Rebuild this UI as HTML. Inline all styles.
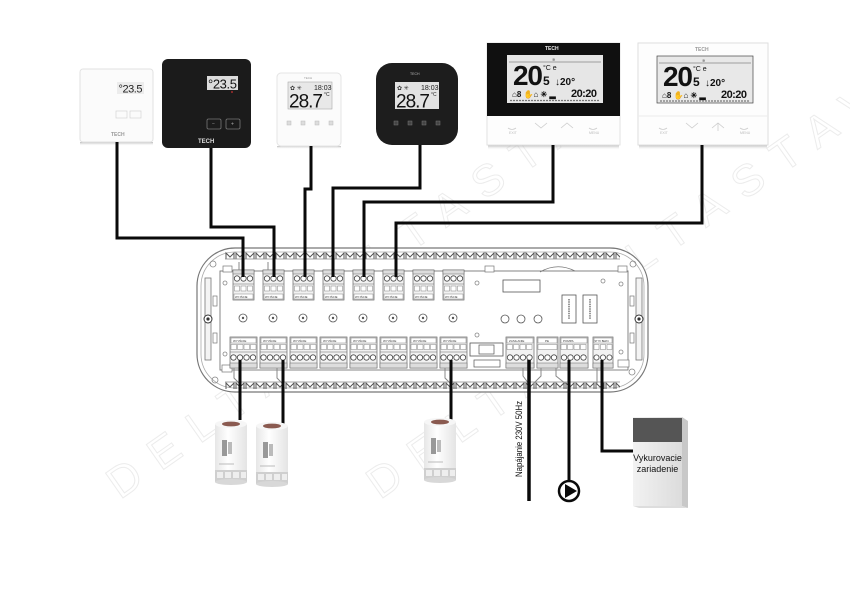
<!DOCTYPE html>
<html><head><meta charset="utf-8"><style>
html,body{margin:0;padding:0;background:#fff;}
svg{display:block;}
text{font-family:"Liberation Sans",sans-serif;}
</style></head><body>
<svg width="850" height="600" viewBox="0 0 850 600" xmlns="http://www.w3.org/2000/svg">
<defs>
 <pattern id="teeth" x="225" y="0" width="10" height="10" patternUnits="userSpaceOnUse">
   <path d="M1 9 L1 3 L5 7 L9 3 L9 9" fill="none" stroke="#555" stroke-width="1"/>
 </pattern>
 <linearGradient id="shd" x1="0" y1="0" x2="0" y2="1">
   <stop offset="0" stop-color="#888" stop-opacity="0.6"/>
   <stop offset="1" stop-color="#fff" stop-opacity="0"/>
 </linearGradient>
 <linearGradient id="boxg" x1="0" y1="0" x2="1" y2="0">
   <stop offset="0" stop-color="#f2f2f2"/>
   <stop offset="1" stop-color="#dcdcdc"/>
 </linearGradient>
 <linearGradient id="actg" x1="0" y1="0" x2="1" y2="0">
   <stop offset="0" stop-color="#e6e6e6"/>
   <stop offset="0.4" stop-color="#fff"/>
   <stop offset="1" stop-color="#e4e4e4"/>
 </linearGradient>
</defs>

<!-- watermark -->
<g fill="none" stroke="#ececec" stroke-width="1" font-size="44" letter-spacing="18">
 <text x="120" y="500" transform="rotate(-35 120 500)">DELTA</text>
 <text x="300" y="330" transform="rotate(-35 300 330)">DELTASTAV</text>
 <text x="380" y="500" transform="rotate(-35 380 500)">DELTA</text>
 <text x="560" y="330" transform="rotate(-35 560 330)">DELTASTAV</text>
</g>

<!-- ============ THERMOSTATS ============ -->
<!-- T1 -->
<rect x="80" y="142" width="73" height="4" fill="url(#shd)"/>
<rect x="80" y="69" width="73" height="73" rx="3" fill="#fbfbfb" stroke="#e2e2e2"/>
<rect x="117" y="82" width="27" height="12" fill="#ececec"/>
<text x="118.5" y="92.5" font-size="11" fill="#222" textLength="24">°23.5</text>
<rect x="116" y="111" width="11" height="7" fill="none" stroke="#d4d4d4" stroke-width="0.7"/>
<rect x="130" y="111" width="11" height="7" fill="none" stroke="#d4d4d4" stroke-width="0.7"/>
<text x="111" y="136" font-size="5" fill="#999" font-weight="bold">TECH</text>

<!-- T2 -->
<rect x="162" y="59" width="89" height="89" rx="6" fill="#1b1b1b"/>
<rect x="207" y="76" width="31" height="14" fill="#dcdcdc"/>
<text x="208" y="88.5" font-size="13" fill="#111" textLength="29">°23.5</text>
<circle cx="232" cy="92" r="0.9" fill="#c33"/>
<rect x="207" y="119" width="14" height="10" rx="1.5" fill="none" stroke="#777" stroke-width="0.8"/>
<rect x="226" y="119" width="14" height="10" rx="1.5" fill="none" stroke="#777" stroke-width="0.8"/>
<text x="212" y="125.5" font-size="5" fill="#aaa">−</text>
<text x="231" y="125.5" font-size="5" fill="#aaa">+</text>
<text x="198" y="143" font-size="6" fill="#ddd" font-weight="bold">TECH</text>

<!-- T3 -->
<rect x="277" y="146" width="64" height="3" fill="url(#shd)"/>
<rect x="277" y="73" width="64" height="73" rx="4" fill="#fbfbfb" stroke="#e4e4e4"/>
<text x="304" y="79" font-size="3" fill="#999">TECH</text>
<rect x="288" y="82" width="44" height="27" fill="#e8e8e8" stroke="#aaa" stroke-width="0.6"/>
<text x="290" y="90" font-size="6" fill="#333">✿ ✳</text>
<text x="314" y="90" font-size="7" fill="#222">18:03</text>
<text x="289" y="107.5" font-size="19" fill="#111" textLength="34">28.7</text>
<text x="324" y="96" font-size="5" fill="#222">°C</text>
<g fill="#ddd" stroke="#bbb" stroke-width="0.5">
 <rect x="287" y="121" width="4" height="4"/><rect x="301" y="121" width="4" height="4"/>
 <rect x="315" y="121" width="4" height="4"/><rect x="329" y="121" width="4" height="4"/>
</g>

<!-- T4 -->
<rect x="376" y="63" width="82" height="82" rx="16" fill="#1d1d1d"/>
<text x="410" y="75" font-size="3.5" fill="#bbb">TECH</text>
<rect x="395" y="82" width="44" height="27" fill="#e2e2e2"/>
<text x="397" y="90" font-size="6" fill="#333">✿ ✳</text>
<text x="421" y="90" font-size="7" fill="#222">18:03</text>
<text x="396" y="107.5" font-size="19" fill="#111" textLength="34">28.7</text>
<text x="431" y="96" font-size="5" fill="#222">°C</text>
<g fill="#444" stroke="#777" stroke-width="0.5">
 <rect x="394" y="121" width="4" height="4"/><rect x="408" y="121" width="4" height="4"/>
 <rect x="422" y="121" width="4" height="4"/><rect x="436" y="121" width="4" height="4"/>
</g>

<!-- T5 -->
<rect x="488" y="145" width="131" height="5" fill="url(#shd)"/>
<rect x="487" y="43" width="133" height="102" fill="#fdfdfd" stroke="#e2e2e2"/>
<rect x="487" y="43" width="133" height="73" fill="#101010"/>
<text x="545" y="50" font-size="5" fill="#eee" font-weight="bold">TECH</text>
<rect x="507" y="55" width="96" height="48" fill="#e6e6e6"/>
<line x1="509" y1="62" x2="601" y2="62" stroke="#555" stroke-width="0.6"/>
<text x="552" y="61" font-size="4" fill="#444">≋</text>
<text x="513" y="85" font-size="28" fill="#111" font-weight="bold" textLength="30">20</text>
<text x="543" y="70" font-size="7" fill="#111">°C e</text>
<text x="543" y="85" font-size="12" fill="#111" font-weight="bold">5</text>
<text x="555" y="85" font-size="10" fill="#111" font-weight="bold">↓20°</text>
<text x="512" y="97" font-size="8" fill="#111" font-weight="bold">⌂8 ✋⌂ ✳ ▂</text>
<text x="571" y="97" font-size="11" fill="#111" font-weight="bold" textLength="26">20:20</text>
<line x1="510" y1="100.5" x2="600" y2="100.5" stroke="#777" stroke-width="1.2" stroke-dasharray="2 1"/>
<g fill="none" stroke="#ccc" stroke-width="0.8">
 <path d="M508 128 q4 3 8 0"/><path d="M535 123 l6 5 l6 -5"/><path d="M561 128 l6 -5 l6 5"/><path d="M589 128 q4 3 8 0"/>
</g>
<text x="509" y="134" font-size="3.5" fill="#bbb">EXIT</text>
<text x="589" y="134" font-size="3.5" fill="#bbb">MENU</text>

<!-- T6 -->
<rect x="639" y="145" width="128" height="5" fill="url(#shd)"/>
<rect x="638" y="43" width="130" height="102" fill="#fdfdfd" stroke="#dedede"/>
<line x1="638" y1="116" x2="768" y2="116" stroke="#ececec"/>
<text x="695" y="51" font-size="5" fill="#999" font-weight="bold">TECH</text>
<g transform="translate(150,1)">
<rect x="507" y="55" width="96" height="47" fill="#e8e8e8" stroke="#444" stroke-width="0.7"/>
<line x1="509" y1="62" x2="601" y2="62" stroke="#555" stroke-width="0.6"/>
<text x="552" y="61" font-size="4" fill="#444">≋</text>
<text x="513" y="85" font-size="28" fill="#111" font-weight="bold" textLength="30">20</text>
<text x="543" y="70" font-size="7" fill="#111">°C e</text>
<text x="543" y="85" font-size="12" fill="#111" font-weight="bold">5</text>
<text x="555" y="85" font-size="10" fill="#111" font-weight="bold">↓20°</text>
<text x="512" y="97" font-size="8" fill="#111" font-weight="bold">⌂8 ✋⌂ ✳ ▂</text>
<text x="571" y="97" font-size="11" fill="#111" font-weight="bold" textLength="26">20:20</text>
<line x1="510" y1="100" x2="600" y2="100" stroke="#777" stroke-width="1.2" stroke-dasharray="2 1"/>
</g>
<g fill="none" stroke="#ccc" stroke-width="0.8">
 <path d="M659 128 q4 3 8 0"/><path d="M686 123 l6 5 l6 -5"/><path d="M712 128 l6 -5 l6 5"/><path d="M718 123 v8"/><path d="M740 128 q4 3 8 0"/>
</g>
<text x="660" y="134" font-size="3.5" fill="#bbb">EXIT</text>
<text x="740" y="134" font-size="3.5" fill="#bbb">MENU</text>

<!-- ============ BOARD ============ -->
<rect x="197" y="248" width="451" height="144" rx="38" fill="#fff" stroke="#777" stroke-width="1.2"/>
<rect x="201" y="252" width="443" height="136" rx="34" fill="none" stroke="#aaa" stroke-width="0.8"/>
<rect x="225" y="249" width="395" height="10" fill="url(#teeth)"/>
<rect x="225" y="382" width="395" height="10" fill="url(#teeth)"/>
<line x1="225" y1="259" x2="620" y2="259" stroke="#888" stroke-width="0.7"/>
<line x1="225" y1="382" x2="620" y2="382" stroke="#888" stroke-width="0.7"/>
<rect x="220" y="271" width="408" height="99" fill="#fff" stroke="#777" stroke-width="0.9"/>
<!-- clips -->
<rect x="223" y="266" width="9" height="6" fill="#fff" stroke="#777" stroke-width="0.7"/>
<rect x="485" y="266" width="9" height="6" fill="#fff" stroke="#777" stroke-width="0.7"/>
<rect x="618" y="266" width="9" height="6" fill="#fff" stroke="#777" stroke-width="0.7"/>
<rect x="222" y="365" width="10" height="7" fill="#fff" stroke="#777" stroke-width="0.7"/>
<rect x="618" y="360" width="11" height="7" fill="#fff" stroke="#777" stroke-width="0.7"/>
<path d="M540 272 Q557 262 575 271" fill="none" stroke="#777" stroke-width="0.8"/>
<!-- small holes -->
<g fill="none" stroke="#888" stroke-width="0.8">
 <circle cx="213" cy="264" r="3"/><circle cx="225" cy="283" r="2"/><circle cx="225" cy="354" r="2"/>
 <circle cx="215" cy="380" r="3"/><circle cx="477" cy="283" r="2"/><circle cx="477" cy="335" r="2"/>
 <circle cx="621" cy="284" r="2"/><circle cx="621" cy="352" r="2"/><circle cx="633" cy="264" r="3"/>
 <circle cx="632" cy="372" r="3"/><circle cx="603" cy="281" r="2"/>
</g>
<!-- rails -->
<rect x="205" y="278" width="6" height="82" fill="#f4f4f4" stroke="#777" stroke-width="0.8"/>
<rect x="213" y="296" width="4" height="10" fill="#fff" stroke="#777" stroke-width="0.7"/>
<rect x="213" y="333" width="4" height="10" fill="#fff" stroke="#777" stroke-width="0.7"/>
<circle cx="208" cy="319" r="4" fill="#fff" stroke="#333" stroke-width="1"/><circle cx="208" cy="319" r="1.6" fill="#333"/>
<rect x="636" y="278" width="6" height="82" fill="#f4f4f4" stroke="#777" stroke-width="0.8"/>
<rect x="630" y="296" width="4" height="10" fill="#fff" stroke="#777" stroke-width="0.7"/>
<rect x="630" y="333" width="4" height="10" fill="#fff" stroke="#777" stroke-width="0.7"/>
<circle cx="639" cy="319" r="4" fill="#fff" stroke="#333" stroke-width="1"/><circle cx="639" cy="319" r="1.6" fill="#333"/>

<!-- top terminal blocks -->
<g id="tb0">
 <rect x="233" y="270" width="21" height="30" fill="#f2f2f2" stroke="#666" stroke-width="0.7"/>
 <rect x="233" y="270" width="21" height="4" fill="#ddd" stroke="#666" stroke-width="0.5"/>
 <circle cx="237" cy="278.5" r="2.7" fill="#fff" stroke="#444" stroke-width="0.8"/>
 <circle cx="243.5" cy="278.5" r="2.7" fill="#fff" stroke="#444" stroke-width="0.8"/>
 <circle cx="250" cy="278.5" r="2.7" fill="#fff" stroke="#444" stroke-width="0.8"/>
 <line x1="233" y1="284" x2="254" y2="284" stroke="#666" stroke-width="0.5"/>
 <rect x="234.5" y="286" width="5" height="5" fill="#fff" stroke="#666" stroke-width="0.4"/>
 <rect x="241" y="286" width="5" height="5" fill="#fff" stroke="#666" stroke-width="0.4"/>
 <rect x="247.5" y="286" width="5" height="5" fill="#fff" stroke="#666" stroke-width="0.4"/>
 <rect x="234" y="294" width="19" height="5" fill="#fff" stroke="#666" stroke-width="0.4"/>
 <text x="235" y="298" font-size="2.8" fill="#333">WYJŚCIE</text>
</g>
<use href="#tb0" x="30"/><use href="#tb0" x="60"/><use href="#tb0" x="90"/><use href="#tb0" x="120"/>
<use href="#tb0" x="150"/><use href="#tb0" x="180"/><use href="#tb0" x="210"/>

<!-- mid screws -->
<g fill="#fff" stroke="#555" stroke-width="0.8">
 <circle cx="243" cy="318" r="4"/><circle cx="273" cy="318" r="4"/><circle cx="303" cy="318" r="4"/><circle cx="333" cy="318" r="4"/>
 <circle cx="363" cy="318" r="4"/><circle cx="393" cy="318" r="4"/><circle cx="423" cy="318" r="4"/><circle cx="453" cy="318" r="4"/>
</g>
<g fill="#555">
 <circle cx="243" cy="318" r="1.2"/><circle cx="273" cy="318" r="1.2"/><circle cx="303" cy="318" r="1.2"/><circle cx="333" cy="318" r="1.2"/>
 <circle cx="363" cy="318" r="1.2"/><circle cx="393" cy="318" r="1.2"/><circle cx="423" cy="318" r="1.2"/><circle cx="453" cy="318" r="1.2"/>
</g>

<!-- bottom terminal blocks -->
<g id="bb0">
 <rect x="230" y="337" width="27" height="31" fill="#f2f2f2" stroke="#666" stroke-width="0.7"/>
 <rect x="231" y="338" width="25" height="5" fill="#fff" stroke="#666" stroke-width="0.4"/>
 <text x="233" y="342" font-size="3" fill="#333">WYJŚCIE</text>
 <rect x="231" y="344.5" width="5.5" height="5" fill="#fff" stroke="#666" stroke-width="0.4"/>
 <rect x="237.5" y="344.5" width="5.5" height="5" fill="#fff" stroke="#666" stroke-width="0.4"/>
 <rect x="244" y="344.5" width="5.5" height="5" fill="#fff" stroke="#666" stroke-width="0.4"/>
 <rect x="250.5" y="344.5" width="5.5" height="5" fill="#fff" stroke="#666" stroke-width="0.4"/>
 <line x1="230" y1="352" x2="257" y2="352" stroke="#666" stroke-width="0.5"/>
 <circle cx="233.5" cy="357.5" r="2.7" fill="#fff" stroke="#444" stroke-width="0.8"/>
 <circle cx="240" cy="357.5" r="2.7" fill="#fff" stroke="#444" stroke-width="0.8"/>
 <circle cx="246.5" cy="357.5" r="2.7" fill="#fff" stroke="#444" stroke-width="0.8"/>
 <circle cx="253" cy="357.5" r="2.7" fill="#fff" stroke="#444" stroke-width="0.8"/>
 <rect x="230" y="363" width="27" height="5" fill="#ddd" stroke="#666" stroke-width="0.5"/>
</g>
<use href="#bb0" x="30"/><use href="#bb0" x="60"/><use href="#bb0" x="90"/><use href="#bb0" x="120"/>
<use href="#bb0" x="150"/><use href="#bb0" x="180"/><use href="#bb0" x="210"/>

<!-- right side components -->
<rect x="503" y="280" width="37" height="12" fill="#fff" stroke="#555" stroke-width="0.8"/>
<g fill="#fff" stroke="#555" stroke-width="0.8">
 <circle cx="505" cy="319" r="4"/><circle cx="521" cy="319" r="4"/><circle cx="538" cy="319" r="4"/>
</g>
<rect x="562" y="295" width="14" height="28" fill="#fff" stroke="#555" stroke-width="0.8"/>
<rect x="583" y="295" width="14" height="28" fill="#fff" stroke="#555" stroke-width="0.8"/>
<line x1="569" y1="299" x2="569" y2="319" stroke="#555" stroke-width="1.2" stroke-dasharray="1.5 0.8"/>
<line x1="590" y1="299" x2="590" y2="319" stroke="#555" stroke-width="1.2" stroke-dasharray="1.5 0.8"/>
<rect x="470" y="343" width="33" height="13" fill="#fff" stroke="#555" stroke-width="0.8"/>
<rect x="479" y="345" width="15" height="9" fill="#fff" stroke="#555" stroke-width="0.7"/>
<rect x="474" y="360" width="26" height="7" fill="#fff" stroke="#555" stroke-width="0.7"/>

<g id="rb">
 <rect x="506" y="337" width="28" height="31" fill="#f2f2f2" stroke="#666" stroke-width="0.7"/>
 <rect x="507" y="338" width="26" height="5" fill="#fff" stroke="#666" stroke-width="0.4"/>
 <rect x="507" y="344.5" width="5.5" height="5" fill="#fff" stroke="#666" stroke-width="0.4"/>
 <rect x="513.5" y="344.5" width="5.5" height="5" fill="#fff" stroke="#666" stroke-width="0.4"/>
 <rect x="520" y="344.5" width="5.5" height="5" fill="#fff" stroke="#666" stroke-width="0.4"/>
 <rect x="526.5" y="344.5" width="5.5" height="5" fill="#fff" stroke="#666" stroke-width="0.4"/>
 <circle cx="510" cy="357.5" r="2.7" fill="#fff" stroke="#444" stroke-width="0.8"/>
 <circle cx="516.5" cy="357.5" r="2.7" fill="#fff" stroke="#444" stroke-width="0.8"/>
 <circle cx="523" cy="357.5" r="2.7" fill="#fff" stroke="#444" stroke-width="0.8"/>
 <circle cx="529.5" cy="357.5" r="2.7" fill="#fff" stroke="#444" stroke-width="0.8"/>
 <rect x="506" y="363" width="28" height="5" fill="#ddd" stroke="#666" stroke-width="0.5"/>
</g>
<text x="509" y="342" font-size="3" fill="#333">ZASILANIE</text>
<use href="#rb" x="54"/>
<text x="563" y="342" font-size="3" fill="#333">POMPA</text>
<!-- PE -->
<rect x="537" y="337" width="21" height="31" fill="#f2f2f2" stroke="#666" stroke-width="0.7"/>
<rect x="538" y="338" width="19" height="5" fill="#fff" stroke="#666" stroke-width="0.4"/>
<text x="545" y="342" font-size="3" fill="#333">PE</text>
<rect x="538" y="344.5" width="19" height="5" fill="#fff" stroke="#666" stroke-width="0.4"/>
<circle cx="541" cy="357.5" r="2.7" fill="#fff" stroke="#444" stroke-width="0.8"/>
<circle cx="547.5" cy="357.5" r="2.7" fill="#fff" stroke="#444" stroke-width="0.8"/>
<circle cx="554" cy="357.5" r="2.7" fill="#fff" stroke="#444" stroke-width="0.8"/>
<rect x="537" y="363" width="21" height="5" fill="#ddd" stroke="#666" stroke-width="0.5"/>
<!-- STYK -->
<rect x="593" y="337" width="20" height="31" fill="#f2f2f2" stroke="#666" stroke-width="0.7"/>
<rect x="594" y="338" width="18" height="5" fill="#fff" stroke="#666" stroke-width="0.4"/>
<text x="594.5" y="342" font-size="2.5" fill="#333">STYK BEZN.</text>
<rect x="594" y="344.5" width="5" height="5" fill="#fff" stroke="#666" stroke-width="0.4"/>
<rect x="600.5" y="344.5" width="5" height="5" fill="#fff" stroke="#666" stroke-width="0.4"/>
<rect x="607" y="344.5" width="5" height="5" fill="#fff" stroke="#666" stroke-width="0.4"/>
<circle cx="596.5" cy="357.5" r="2.6" fill="#fff" stroke="#444" stroke-width="0.8"/>
<circle cx="603" cy="357.5" r="2.6" fill="#fff" stroke="#444" stroke-width="0.8"/>
<circle cx="609.5" cy="357.5" r="2.6" fill="#fff" stroke="#444" stroke-width="0.8"/>
<rect x="593" y="363" width="20" height="5" fill="#ddd" stroke="#666" stroke-width="0.5"/>

<!-- thin gray wires on board -->
<g fill="none" stroke="#888" stroke-width="1">
 <path d="M234 368 V378 L240 384"/><path d="M277 368 V378 L283 384"/><path d="M445 368 V378 L451 384"/>
 <path d="M523 368 V376 L529 384"/><path d="M541 368 V376 L533 384"/><path d="M556 368 V376 L566 384"/>
 <path d="M597 368 V384"/><path d="M239 262 V270"/><path d="M268 262 V270"/>
</g>

<!-- ============ WIRES ============ -->
<g fill="none" stroke="#0a0a0a" stroke-width="3" stroke-linejoin="miter">
 <path d="M117 142 V238 H243 V277"/>
 <path d="M211 148 V227 H274 V277"/>
 <path d="M311 146 V189 H305 V277"/>
 <path d="M420 145 V188 H333 V277"/>
 <path d="M553 145 V202 H364 V277"/>
 <path d="M702 145 V223 H396 V277"/>
 <path d="M240 360 V420"/>
 <path d="M283 360 V424"/>
 <path d="M451 360 V420"/>
 <path d="M529 360 V501" stroke-width="3.5"/>
 <path d="M569 360 V481"/>
 <path d="M602 360 V451 H634"/>
</g>

<!-- ============ ACTUATORS ============ -->
<g id="act">
 <rect x="215" y="424" width="32" height="46" fill="url(#actg)"/>
 <rect x="215" y="470" width="32" height="12" fill="#cfcfcf"/>
 <g fill="#eee"><rect x="217" y="472" width="6" height="6"/><rect x="225" y="472" width="6" height="6"/><rect x="233" y="472" width="6" height="6"/><rect x="241" y="472" width="5" height="6"/></g>
 <ellipse cx="231" cy="482" rx="16" ry="3" fill="#d8d8d8"/>
 <ellipse cx="231" cy="424" rx="16" ry="4" fill="#f6f6f6"/>
 <ellipse cx="231" cy="424" rx="9" ry="2.4" fill="#8a5a50"/>
 <rect x="222" y="440" width="5" height="16" fill="#999"/>
 <rect x="228" y="442" width="4" height="12" fill="#bbb"/>
 <line x1="219" y1="464" x2="234" y2="464" stroke="#bbb" stroke-width="1"/>
</g>
<use href="#act" x="41" y="2"/>
<use href="#act" x="209" y="-2"/>

<!-- Napájanie -->
<text x="0" y="0" font-size="9" fill="#111" textLength="76" lengthAdjust="spacingAndGlyphs" transform="translate(522,477) rotate(-90)">Napájanie 230V 50Hz</text>

<!-- pump -->
<circle cx="569" cy="491" r="10" fill="#fff" stroke="#0a0a0a" stroke-width="2.5"/>
<path d="M565 484 L577 491 L565 498 Z" fill="#0a0a0a"/>

<!-- heating device -->
<path d="M682 417 L688 421 L688 508 L682 506 Z" fill="#c8c8c8"/>
<path d="M633 506 L682 506 L688 508 L639 508 Z" fill="#ddd"/>
<rect x="633" y="417" width="49" height="89" fill="url(#boxg)"/>
<rect x="633" y="418" width="49" height="24" fill="#555"/>
<text x="657.5" y="461" font-size="9" fill="#111" text-anchor="middle">Vykurovacie</text>
<text x="657.5" y="472" font-size="9" fill="#111" text-anchor="middle">zariadenie</text>
</svg>
</body></html>
